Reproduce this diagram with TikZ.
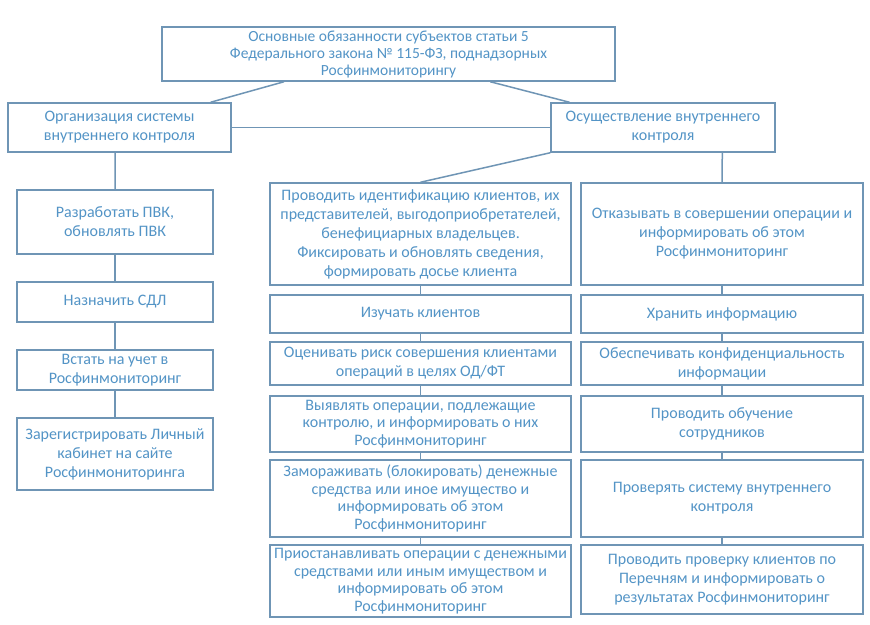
\documentclass[tikz,border=0pt]{standalone}
\usepackage{fontspec}
\setmainfont{Carlito}
\usetikzlibrary{calc}
\definecolor{bordc}{HTML}{6F95B5}
\definecolor{txtc}{HTML}{5394C6}
\tikzset{
  box/.style={draw=bordc, line width=1.5pt, fill=white, rectangle, align=center,
    text=txtc, inner sep=1pt, font=\fontsize{16}{19}\selectfont},
  topfont/.style={font=\fontsize{15.5}{17}\selectfont},
  tightfont/.style={font=\fontsize{16}{17.5}\selectfont},
  link/.style={draw=bordc, line width=1.5pt},
}
\newcommand{\bx}[7]{% name, x1,y1,x2,y2, text, extra style
  \node[box, #7, minimum width={(#4-#2)*1pt}, minimum height={(#5-#3)*1pt}] (#1) at ({(#2+#4)/2},{(#3+#5)/2}) {#6};}
\begin{document}
\begin{tikzpicture}[x=1pt,y=-1pt]
\useasboundingbox (0,0) rectangle (870,624);
\fill[white] (0,0) rectangle (870,624);
\bx{top}{162}{27}{615}{81}{Основные обязанности субъектов статьи 5\\Федерального закона № 115-ФЗ, поднадзорных\\Росфинмониторингу}{topfont}
\bx{L1}{8}{103}{231}{152}{Организация системы\\внутреннего контроля}{}
\bx{R1}{551}{103}{775}{152}{Осуществление внутреннего\\контроля}{}
% left column
\bx{La}{17}{190}{213}{254}{Разработать ПВК,\\обновлять ПВК}{}
\bx{Lb}{17}{282}{213}{322}{Назначить СДЛ}{}
\bx{Lc}{17}{350}{213}{390}{Встать на учет в\\Росфинмониторинг}{}
\bx{Ld}{17}{418}{213}{490}{Зарегистрировать Личный\\кабинет на сайте\\Росфинмониторинга}{}
% middle column
\bx{Ma}{270}{183}{571}{285}{Проводить идентификацию клиентов, их\\представителей, выгодоприобретателей,\\бенефициарных владельцев.\\Фиксировать и обновлять сведения,\\формировать досье клиента}{}
\bx{Mb}{270}{295}{571}{333}{Изучать клиентов}{}
\bx{Mc}{270}{342}{571}{385}{Оценивать риск совершения клиентами\\операций в целях ОД/ФТ}{}
\bx{Md}{270}{396}{571}{452}{Выявлять операции, подлежащие\\контролю, и информировать о них\\Росфинмониторинг}{tightfont}
\bx{Me}{270}{460}{571}{537}{Замораживать (блокировать) денежные\\средства или иное имущество и\\информировать об этом\\Росфинмониторинг}{tightfont}
\bx{Mf}{270}{545}{571}{617}{Приостанавливать операции с денежными\\средствами или иным имуществом и\\информировать об этом\\Росфинмониторинг}{tightfont}
% right column
\bx{Ra}{581}{183}{863}{285}{Отказывать в совершении операции и\\информировать об этом\\Росфинмониторинг}{}
\bx{Rb}{581}{295}{863}{333}{Хранить информацию}{}
\bx{Rc}{581}{342}{863}{385}{Обеспечивать конфиденциальность\\информации}{}
\bx{Rd}{581}{396}{863}{452}{Проводить обучение\\сотрудников}{}
\bx{Re}{581}{460}{863}{537}{Проверять систему внутреннего\\контроля}{}
\bx{Rf}{581}{545}{863}{614}{Проводить проверку клиентов по\\Перечням и информировать о\\результатах Росфинмониторинг}{}
% connectors
\draw[link] ($(top.south west)!0.27!(top.south east)$) -- ($(L1.north west)!0.906!(L1.north east)$);
\draw[link] ($(top.south west)!0.724!(top.south east)$) -- ($(R1.north west)!0.085!(R1.north east)$);
\draw[link] (L1.east) -- (R1.west);
\draw[link] (R1.south west) -- (Ma.north);
\draw[link] ($(R1.south west)!0.763!(R1.south east)$) -- (Ra.north);
\draw[link] ($(L1.south west)!0.48!(L1.south east)$) -- (La.north);
\draw[link] (La.south) -- (Lb.north);
\draw[link] (Lb.south) -- (Lc.north);
\draw[link] (Lc.south) -- (Ld.north);
\draw[link] (Ma.south) -- (Mb.north);
\draw[link] (Mb.south) -- (Mc.north);
\draw[link] (Mc.south) -- (Md.north);
\draw[link] (Md.south) -- (Me.north);
\draw[link] (Me.south) -- (Mf.north);
\draw[link] (Ra.south) -- (Rb.north);
\draw[link] (Rb.south) -- (Rc.north);
\draw[link] (Rc.south) -- (Rd.north);
\draw[link] (Rd.south) -- (Re.north);
\draw[link] (Re.south) -- (Rf.north);
\end{tikzpicture}
\end{document}
